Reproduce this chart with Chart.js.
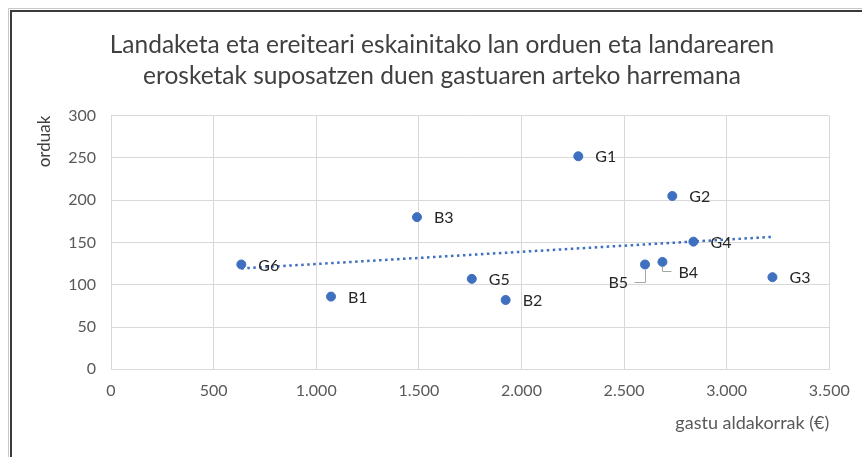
<!DOCTYPE html>
<html>
<head>
<meta charset="utf-8">
<script src="https://cdn.jsdelivr.net/npm/chart.js@4.4.0/dist/chart.umd.min.js"></script>
<style>
    html, body { margin: 0; padding: 0; background: #fff; }
    #wrap { width: 862px; height: 457px; position: relative; }
</style>
</head>
<body>
<div id="wrap"><canvas id="chart" width="862" height="457"></canvas></div>
<script>
const titleLines = [
    'Landaketa eta ereiteari eskainitako lan orduen eta landarearen',
    'erosketak suposatzen duen gastuaren arteko harremana'
];
const pointNames = ['G6', 'B1', 'B3', 'G5', 'B2', 'G1', 'B5', 'B4', 'G2', 'G4', 'G3'];
const costs = [635, 1072, 1491, 1758, 1923, 2277, 2602, 2687, 2735, 2838, 3223];
const hours = [124, 86, 180, 107, 82, 252, 124, 127, 205, 151, 109];
const xTicks = [0, 500, 1000, 1500, 2000, 2500, 3000, 3500];
const yTicks = [0, 50, 100, 150, 200, 250, 300];

const blue = '#3f6fbf';
const textGrey = '#595959';
const labelColor = '#262626';

// where each data label sits relative to its point (default: right of it)
const labelPlacement = {
    B5: { dx: -17, dy: 18, align: 'right', leader: [[-11, 18], [0, 18], [0, 5]] },
    B4: { dx: 16, dy: 11, align: 'left', leader: [[0, 4], [0, 9.5], [9, 9.5]] }
};

function thousands(v) {
    return String(v).replace(/\B(?=(\d{3})+(?!\d))/g, '.');
}

// least squares trendline from the points
function trendline(xs, ys) {
    const n = xs.length;
    const mx = xs.reduce((a, b) => a + b, 0) / n;
    const my = ys.reduce((a, b) => a + b, 0) / n;
    let sxy = 0, sxx = 0;
    for (let i = 0; i < n; i++) {
        sxy += (xs[i] - mx) * (ys[i] - my);
        sxx += (xs[i] - mx) * (xs[i] - mx);
    }
    const slope = sxy / sxx;
    const x0 = Math.min(...xs), x1 = Math.max(...xs);
    return [
        { x: x0, y: my + slope * (x0 - mx) },
        { x: x1, y: my + slope * (x1 - mx) }
    ];
}

const frameAndTitle = {
    id: 'frameAndTitle',
    beforeDraw(chart) {
        const ctx = chart.ctx;
        ctx.save();
        ctx.fillStyle = '#fff';
        ctx.fillRect(0, 0, chart.width, chart.height);
        ctx.strokeStyle = '#c8c8c8';
        ctx.lineWidth = 1;
        ctx.beginPath();
        ctx.moveTo(8.5, 457);
        ctx.lineTo(8.5, 8.5);
        ctx.lineTo(862, 8.5);
        ctx.stroke();
        ctx.strokeStyle = '#3a3a3a';
        ctx.lineWidth = 2;
        ctx.beginPath();
        ctx.moveTo(11, 457);
        ctx.lineTo(11, 11);
        ctx.lineTo(862, 11);
        ctx.stroke();
        ctx.restore();
    },
    afterDraw(chart) {
        const ctx = chart.ctx;
        ctx.save();
        ctx.fillStyle = '#404040';
        ctx.font = '24.5px Lato';
        ctx.textAlign = 'center';
        ctx.textBaseline = 'middle';
        titleLines.forEach((line, i) => ctx.fillText(line, 442, 45 + i * 31));
        ctx.restore();
    }
};

const pointLabels = {
    id: 'pointLabels',
    afterDatasetsDraw(chart) {
        const ctx = chart.ctx;
        const meta = chart.getDatasetMeta(1);
        ctx.save();
        ctx.font = '16px Lato';
        ctx.textBaseline = 'middle';
        meta.data.forEach((pt, i) => {
            const name = pointNames[i];
            const p = labelPlacement[name] || { dx: 17, dy: 1, align: 'left' };
            if (p.leader) {
                ctx.strokeStyle = '#a6a6a6';
                ctx.lineWidth = 1;
                ctx.beginPath();
                p.leader.forEach(([lx, ly], k) => {
                    const fx = Math.round(pt.x + lx) + 0.5, fy = Math.round(pt.y + ly) + 0.5;
                    k === 0 ? ctx.moveTo(fx, fy) : ctx.lineTo(fx, fy);
                });
                ctx.stroke();
            }
            ctx.fillStyle = labelColor;
            ctx.textAlign = p.align;
            ctx.fillText(name, pt.x + p.dx, pt.y + p.dy);
        });
        ctx.restore();
    }
};

new Chart(document.getElementById('chart'), {
    type: 'scatter',
    data: {
        datasets: [
            {
                label: 'joera',
                type: 'line',
                data: trendline(costs, hours),
                borderColor: blue,
                borderWidth: 2.5,
                borderDash: [2.5, 3.5],
                borderCapStyle: 'butt',
                pointRadius: 0,
                fill: false
            },
            {
                label: 'orduak',
                data: costs.map((c, i) => ({ x: c, y: hours[i] })),
                backgroundColor: blue,
                borderColor: blue,
                pointRadius: 4.5,
                pointHoverRadius: 4.5
            }
        ]
    },
    options: {
        responsive: false,
        animation: false,
        devicePixelRatio: 1,
        layout: { padding: { top: 115.7, left: 0, right: 32.7, bottom: 0 } },
        plugins: {
            legend: { display: false },
            tooltip: { enabled: false },
            title: { display: false }
        },
        scales: {
            x: {
                type: 'linear',
                min: 0,
                max: 3500,
                afterBuildTicks: axis => { axis.ticks = xTicks.map(v => ({ value: v })); },
                afterFit: axis => { axis.height = 87.7; },
                grid: { color: '#d9d9d9', drawTicks: false },
                border: { color: '#d9d9d9' },
                ticks: {
                    color: textGrey,
                    font: { family: 'Lato', size: 16 },
                    padding: 12,
                    callback: v => thousands(v)
                },
                title: {
                    display: true,
                    text: 'gastu aldakorrak (€)',
                    align: 'end',
                    color: textGrey,
                    font: { family: 'Lato', size: 18 },
                    padding: { bottom: 23 }
                }
            },
            y: {
                type: 'linear',
                min: 0,
                max: 300,
                afterBuildTicks: axis => { axis.ticks = yTicks.map(v => ({ value: v })); },
                afterFit: axis => { axis.width = 111; },
                grid: { color: '#d9d9d9', drawTicks: false },
                border: { display: false },
                ticks: {
                    color: textGrey,
                    font: { family: 'Lato', size: 16 },
                    padding: 15
                },
                title: {
                    display: true,
                    text: 'orduak',
                    align: 'end',
                    color: '#404040',
                    font: { family: 'Lato', size: 17 },
                    padding: { top: 34.8 }
                }
            }
        }
    },
    plugins: [frameAndTitle, pointLabels]
});
</script>
</body>
</html>
